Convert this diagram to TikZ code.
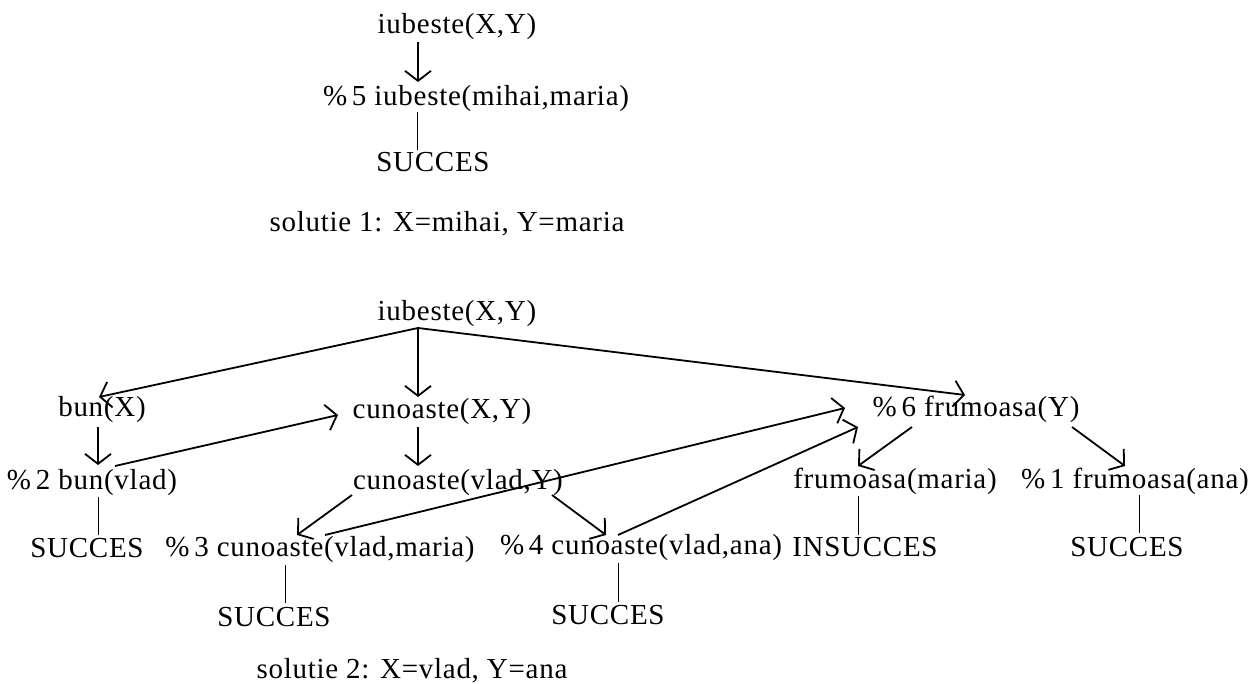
\documentclass[tikz,border=0pt]{standalone}
\usepackage{fontspec}
\setmainfont{Liberation Serif}[LetterSpace=2.5]
\usetikzlibrary{arrows.meta,calc}
\begin{document}
\begin{tikzpicture}[x=1pt,y=-1pt,
  lbl/.style={inner sep=0pt, font=\fontsize{29}{34}\selectfont, text height=20pt, text depth=6pt, anchor=center},
  arr/.style={line width=1.8pt, -{Straight Barb[length=10pt,width=26pt]}},
  thinline/.style={line width=0.9pt}]
\useasboundingbox (0,0) rectangle (1258,684);
% top tree
\node[lbl] (t1) at (457,27) {iubeste(X,Y)};
\node[lbl] (t2) at (476,99) {\%\,5 iubeste(mihai,maria)};
\node[lbl] (t3) at (433,165) {SUCCES};
\node[lbl] (sol1) at (447,225) {solutie 1: X=mihai,\ Y=maria};
\draw[arr] ($(t1)+(-39,15)$) -- ($(t2)+(-58,-17)$);
\draw[thinline] ($(t2)+(-59,13)$) -- ($(t3)+(-16,-15)$);
% bottom tree
\node[lbl] (b1) at (457,314) {iubeste(X,Y)};
\node[lbl] (b2) at (102,410) {bun(X)};
\node[lbl] (b3) at (442,411) {cunoaste(X,Y)};
\node[lbl] (b4) at (976,410) {\%\,6 frumoasa(Y)};
\node[lbl] (b5) at (92,482) {\%\,2 bun(vlad)};
\node[lbl] (b6) at (458,482) {cunoaste(vlad,Y)};
\node[lbl] (b7) at (895,481) {frumoasa(maria)};
\node[lbl] (b8) at (1135,481) {\%\,1 frumoasa(ana)};
\node[lbl] (b9) at (87,550) {SUCCES};
\node[lbl] (b10) at (320,549) {\%\,3 cunoaste(vlad,maria)};
\node[lbl] (b11) at (641,547) {\%\,4 cunoaste(vlad,ana)};
\node[lbl] (b12) at (865,549) {INSUCCES};
\node[lbl] (b13) at (1127,549) {SUCCES};
\node[lbl] (b14) at (274,619) {SUCCES};
\node[lbl] (b15) at (608,617) {SUCCES};
\node[lbl] (sol2) at (412,671) {solutie 2: X=vlad,\ Y=ana};
\coordinate (o) at ($(b1)+(-39,14)$);
\draw[arr] (o) -- ($(b2)+(-3,-13)$);
\draw[arr] (o) -- ($(b3)+(-24,-14)$);
\draw[arr] (o) -- ($(b4)+(-11,-15)$);
\draw[arr] ($(b2)+(-4,17)$) -- ($(b5)+(6,-17)$);
\draw[arr] ($(b5)+(23,-16)$) -- ($(b3)+(-104,4)$);
\draw[arr] ($(b3)+(-24,16)$) -- ($(b6)+(-40,-16)$);
\draw[arr] ($(b6)+(-106,13)$) -- ($(b10)+(-23,-14)$);
\draw[arr] ($(b6)+(94,13)$) -- ($(b11)+(-35,-12)$);
\draw[arr] ($(b10)+(5,-14)$) -- ($(b4)+(-131,-2)$);
\draw[arr] ($(b11)+(-23,-12)$) -- ($(b4)+(-118,17)$);
\draw[arr] ($(b4)+(-64,17)$) -- ($(b7)+(-37,-15)$);
\draw[arr] ($(b4)+(96,17)$) -- ($(b8)+(-10,-15)$);
\draw[thinline] ($(b5)+(6,15)$) -- ($(b9)+(11,-15)$);
\draw[thinline] ($(b7)+(-37,15)$) -- ($(b12)+(-7,-14)$);
\draw[thinline] ($(b8)+(4,14)$) -- ($(b13)+(12,-16)$);
\draw[thinline] ($(b10)+(-35,16)$) -- ($(b14)+(11,-16)$);
\draw[thinline] ($(b11)+(-23,16)$) -- ($(b15)+(10,-15)$);
\end{tikzpicture}
\end{document}
